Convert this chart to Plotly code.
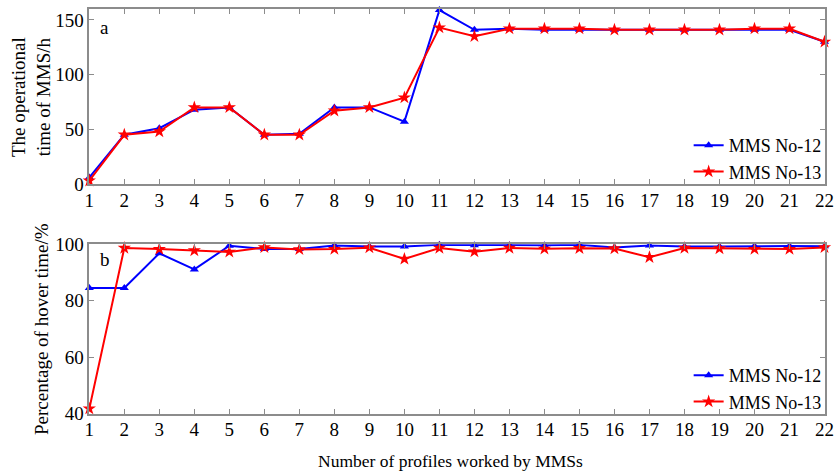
import plotly.graph_objects as go

profiles = list(range(1, 23))
tick_labels = [str(i) for i in profiles]

time_mms12 = [6, 45, 51, 68, 70, 45, 46, 70, 70, 57, 159, 141, 142, 141, 141, 141, 141, 141, 141, 141, 141, 130]
time_mms13 = [3, 45, 48, 70, 70, 45, 45, 67, 70, 79, 143, 135, 142, 142, 142, 141, 141, 141, 141, 142, 142, 130]

hover_mms12 = [84.5, 84.5, 96.8, 91.1, 99.5, 98.3, 98.3, 99.6, 99.2, 99.2, 99.8, 99.7, 99.7, 99.7, 99.8, 98.9, 99.6, 99.2, 99.2, 99.4, 99.4, 99.3]
hover_mms13 = [41.7, 98.7, 98.3, 97.8, 97.3, 98.9, 98.2, 98.3, 98.8, 94.8, 98.7, 97.4, 98.7, 98.4, 98.6, 98.5, 95.4, 98.7, 98.5, 98.3, 98.3, 98.9]

FONT = "Liberation Serif"
BLUE = "#0000ff"
RED = "#ff0000"
GRAY = "#8c8c8c"

W, H = 835, 472
xd = [89.3 / W, 824.5 / W]
top_dom = [(H - 184) / H, (H - 9) / H]
bot_dom = [(H - 413.5) / H, (H - 244.3) / H]

fig = go.Figure()

def add(x, y, name, color, symbol, size, xa, ya, legend):
    fig.add_trace(go.Scatter(
        x=x, y=y, name=name, mode="lines+markers",
        line=dict(color=color, width=2),
        marker=dict(symbol=symbol, size=size, color=color, line=dict(width=0)),
        xaxis=xa, yaxis=ya, legend=legend, cliponaxis=False,
    ))

add(profiles, time_mms12, "MMS No-12", BLUE, "triangle-up", 8, "x", "y", "legend")
add(profiles, time_mms13, "MMS No-13", RED, "star", 10, "x", "y", "legend")
add(profiles, hover_mms12, "MMS No-12", BLUE, "triangle-up", 8, "x2", "y2", "legend2")
add(profiles, hover_mms13, "MMS No-13", RED, "star", 10, "x2", "y2", "legend2")

axis_common = dict(
    showline=True, linecolor=GRAY, linewidth=1.5, mirror="ticks",
    ticks="inside", ticklen=5, tickcolor=GRAY, tickwidth=1,
    showgrid=False, zeroline=False, automargin=False,
    tickfont=dict(family=FONT, size=19, color="black"),
)
xaxis_extra = dict(range=[1, 22], tickvals=profiles, ticktext=tick_labels,
                   ticklabeloverflow="allow", ticklabelstandoff=-2)

legend_common = dict(x=0.99, xanchor="right", yanchor="bottom",
                     bgcolor="rgba(255,255,255,0)", font=dict(family=FONT, size=18),
                     tracegroupgap=0, itemwidth=30)

fig.update_layout(
    template="none",
    width=W, height=H,
    margin=dict(l=0, r=0, t=0, b=0, pad=0),
    paper_bgcolor="white", plot_bgcolor="white",
    font=dict(family=FONT, size=18, color="black"),
    xaxis=dict(domain=xd, anchor="y", **xaxis_extra, **axis_common),
    yaxis=dict(domain=top_dom, anchor="x", range=[0, 160], tickvals=[0, 50, 100, 150], **axis_common),
    xaxis2=dict(domain=xd, anchor="y2", **xaxis_extra, **axis_common),
    yaxis2=dict(domain=bot_dom, anchor="x2", range=[40, 100], tickvals=[40, 60, 80, 100], **axis_common),
    legend=dict(y=(H - 190) / H, **legend_common),
    legend2=dict(y=(H - 420) / H, **legend_common),
    showlegend=True,
)

ann = [
    dict(text="a", x=104.5 / W, y=(H - 28) / H),
    dict(text="b", x=105 / W, y=(H - 259) / H),
]
for a in ann:
    fig.add_annotation(xref="paper", yref="paper", x=a["x"], y=a["y"], text=a["text"],
                       showarrow=False, font=dict(family=FONT, size=19), xanchor="center", yanchor="middle")

fig.add_annotation(xref="paper", yref="paper", x=31 / W, y=(H - 97) / H,
                   text="The operational<br>time of MMS/h", textangle=-90, showarrow=False,
                   font=dict(family=FONT, size=19), xanchor="center", yanchor="middle")
fig.add_annotation(xref="paper", yref="paper", x=41 / W, y=(H - 329) / H,
                   text="Percentage of hover time/%", textangle=-90, showarrow=False,
                   font=dict(family=FONT, size=19), xanchor="center", yanchor="middle")
fig.add_annotation(xref="paper", yref="paper", x=450 / W, y=(H - 461) / H,
                   text="Number of profiles worked by MMSs", showarrow=False,
                   font=dict(family=FONT, size=17.5), xanchor="center", yanchor="middle")

fig.write_html("out.html")
